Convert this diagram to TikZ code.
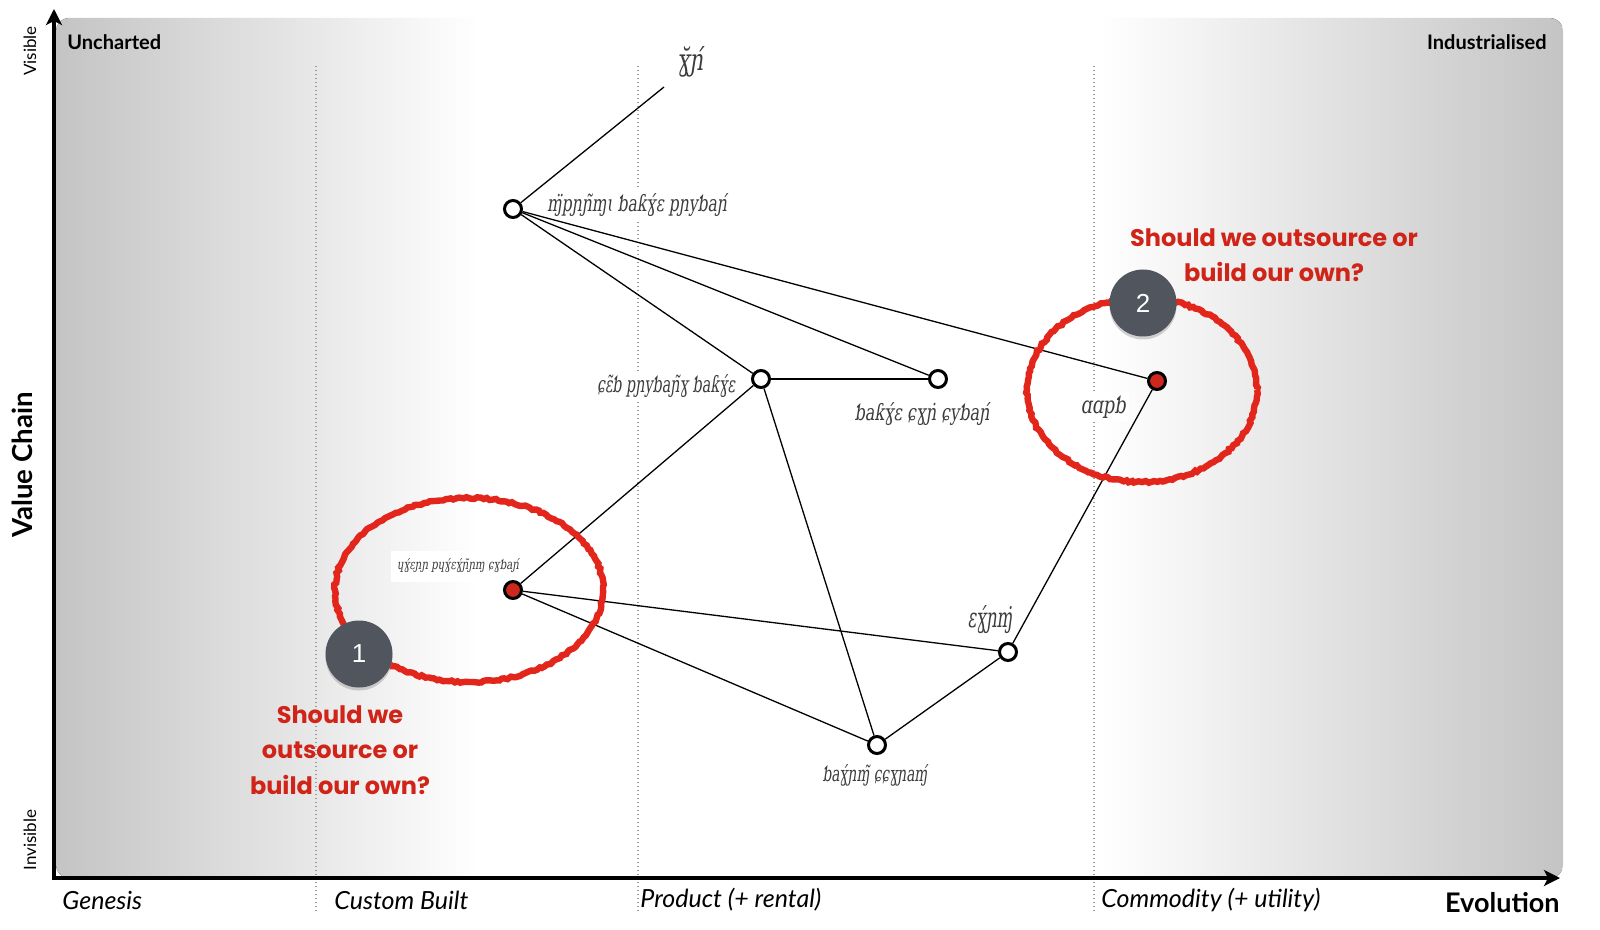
\documentclass[tikz,border=0pt]{standalone}
\usepackage{fontspec}
\usepackage{graphicx}
\setmainfont{Lato}
\newfontfamily\teng{DejaVu Serif}[FakeSlant=0.22]
\newfontfamily\hand{Poppins}
\newfontfamily\numfont{Liberation Sans}
\usetikzlibrary{arrows.meta,shadows,decorations.pathmorphing}
\definecolor{bggray}{RGB}{196,196,196}
\definecolor{mapred}{RGB}{204,40,30}
\definecolor{brushred}{RGB}{226,38,28}
\definecolor{qred}{RGB}{208,36,24}
\definecolor{slate}{RGB}{80,85,94}
\definecolor{ink}{RGB}{60,60,60}
\newcommand{\tgw}[3]{\resizebox{#1}{#2}{\teng #3}}
\begin{document}
\begin{tikzpicture}[x=0.5pt,y=-0.5pt,
 comp/.style={circle,draw=black,line width=1.5pt,fill=white,minimum size=8.5pt,inner sep=0pt},
 redcomp/.style={comp,fill=mapred},
 link/.style={line width=0.65pt},
 teng/.style={text=ink,fill=white,inner sep=1.5pt},
 stage/.style={font=\itshape\fontsize{12.5}{14}\selectfont,anchor=west,inner sep=0pt},
 guide/.style={gray!80,line width=0.6pt,dash pattern=on 0.5pt off 1.5pt},
 axis/.style={line width=2pt,-{Stealth[length=8pt,width=8pt,inset=2pt]}},
 brush/.style={brushred,line width=3.2pt,decorate,decoration={random steps,segment length=1.5pt,amplitude=0.5pt}},
 badge/.style={circle,fill=slate,minimum size=33.5pt,inner sep=0pt,text=white,font=\numfont\fontsize{13}{13}\selectfont,drop shadow={opacity=0.35,shadow xshift=0pt,shadow yshift=-1.5pt}},
 question/.style={text=qred,font=\hand\bfseries\fontsize{12}{17.75}\selectfont,align=center}
]
\useasboundingbox (0,0) rectangle (1600,930);
\fill[white] (0,0) rectangle (1600,930);
% background panel
\begin{scope}
\clip[rounded corners=6.5pt] (56,18) rectangle (1563,878);
\fill[left color=bggray,right color=white] (56,18) rectangle (480,878);
\fill[left color=white,right color=bggray] (1100,18) rectangle (1563,878);
\end{scope}
% stage guides
\draw[guide] (316,66) -- (316,912);
\draw[guide] (638,66) -- (638,912);
\draw[guide] (1094,66) -- (1094,912);
% corner / axis texts
\node[font=\bfseries\fontsize{10}{12}\selectfont,anchor=west,inner sep=0pt] (unch) at (67,42) {Uncharted};
\node[font=\bfseries\fontsize{10}{12}\selectfont,anchor=east,inner sep=0pt] (ind) at (1547,42) {Industrialised};
\node[rotate=90,font=\fontsize{8.5}{10}\selectfont,inner sep=0pt] (vis) at (30,51) {Visible};
\node[rotate=90,font=\fontsize{8.5}{10}\selectfont,inner sep=0pt] (invis) at (30,840) {Invisible};
\node[rotate=90,font=\bfseries\fontsize{13.8}{15}\selectfont,inner sep=0pt] (vc) at (22,465) {Value Chain};
\node[font=\bfseries\fontsize{13.5}{15}\selectfont,anchor=east,inner sep=0pt] (evo) at (1560,903) {Evolution};
\node[stage] (gen) at (62,900) {Genesis};
\node[stage] (cus) at (334,900) {Custom Built};
\node[stage] (pro) at (640,900) {Product (+ rental)};
\node[stage] (com) at (1101,900) {Commodity (+ utility)};
% component labels
\node[teng] (lU) at (690,62) {\tgw{13pt}{12pt}{ɣ̆ɲ́}};
\node[teng] (lA) at (637,205) {\tgw{90pt}{9pt}{ɱ̈pɲɲ̃ɱɩ ƅaƙɣ́ɛ pɲyƅaɲ́}};
\node[teng] (lB) at (666,386) {\tgw{69pt}{9pt}{ɕɛ̃ƅ pɲyƅaɲ̃ɣ ƅaƙɣ́ɛ}};
\node[teng] (lC) at (922,414) {\tgw{67.5pt}{9pt}{ƅaƙɣ́ɛ ɕɣɲ̇ ɕyƅaɲ́}};
\node[teng,minimum width=67pt,minimum height=15.5pt] (lD) at (458,566) {\tgw{61pt}{5.5pt}{ɥɣ́ɛɲɲ pɥɣ́ɛɣ́ɲ̃ɲɱ ɕɣƅaɲ́}};
\node[teng] (lE) at (990,620) {\tgw{22.5pt}{11pt}{ɛɣ́ɲɱ̇}};
\node[teng] (lF) at (875,775) {\tgw{52.5pt}{8.5pt}{ƅaɣ́ɲɱ̃ ɕɕɣɲaɱ́}};
\node[teng] (lG) at (1103,407) {\tgw{22.5pt}{9pt}{ɑɑpƅ}};
% components
\coordinate (U) at (664,87);
\node[comp] (A) at (513,209) {};
\node[comp] (B) at (761,379) {};
\node[comp] (C) at (938,379) {};
\node[redcomp] (D) at (513,590) {};
\node[comp] (E) at (1008,652) {};
\node[comp] (F) at (877,745) {};
\node[redcomp] (G) at (1157,381) {};
% links
\draw[link] (A) -- (U);
\draw[link] (A) -- (B);
\draw[link] (A) -- (C);
\draw[link] (A) -- (G);
\draw[link] (B) -- (C);
\draw[link] (B) -- (D);
\draw[link] (B) -- (F);
\draw[link] (D) -- (E);
\draw[link] (D) -- (F);
\draw[link] (F) -- (E);
\draw[link] (E) -- (G);
% annotations
\draw[brush] (469,590) ellipse [x radius=67pt, y radius=46pt];
\draw[brush] (1142,390) ellipse [x radius=57.5pt, y radius=46pt];
\node[badge] (b1) at (359,654) {1};
\node[badge] (b2) at (1143,303) {2};
\node[question] (q1) at (340,750) {Should we\\outsource or\\build our own?};
\node[question] (q2) at (1274,255) {Should we outsource or\\build our own?};
% axes
\draw[axis] (54,880) -- (54,9);
\draw[axis] (53,878) -- (1560,878);
\end{tikzpicture}
\end{document}
